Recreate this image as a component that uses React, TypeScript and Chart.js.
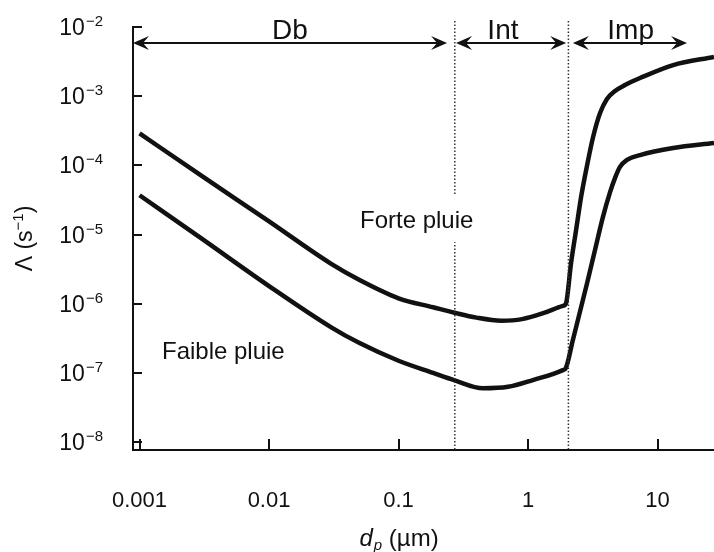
import React, { useEffect, useRef } from 'react';
import { Chart, registerables } from 'chart.js';

Chart.register(...registerables);

// ---- data ----
const forteDiameters = [0.001, 0.003, 0.01, 0.03, 0.05, 0.1, 0.185, 0.272, 0.4, 0.62, 0.9, 1.31, 1.86, 1.96, 2.15, 2.35, 2.57, 2.86, 3.18, 3.6, 4.07, 4.7, 5.61, 7.33, 13.2, 27.3];
const forteRates = [2.9e-4, 7.1e-5, 1.55e-5, 3.8e-6, 2.2e-6, 1.2e-6, 8.9e-7, 7.4e-7, 6.3e-7, 5.7e-7, 6.0e-7, 7.3e-7, 9.3e-7, 1.0e-6, 3.9e-6, 1.16e-5, 3.5e-5, 1.01e-4, 2.57e-4, 5.7e-4, 9.1e-4, 1.19e-3, 1.45e-3, 1.83e-3, 2.82e-3, 3.7e-3];

const faibleDiameters = [0.001, 0.003, 0.01, 0.03, 0.05, 0.1, 0.185, 0.272, 0.45, 0.7, 1.09, 1.86, 1.96, 2.22, 2.86, 3.29, 3.79, 4.3, 4.7, 5.13, 5.81, 7.33, 13.2, 27.3];
const faibleRates = [3.7e-5, 8.8e-6, 1.8e-6, 4.6e-7, 2.7e-7, 1.5e-7, 1.0e-7, 7.8e-8, 6.0e-8, 6.3e-8, 7.9e-8, 1.1e-7, 1.18e-7, 3.0e-7, 2.0e-6, 6.0e-6, 1.8e-5, 4.1e-5, 6.6e-5, 9.5e-5, 1.2e-4, 1.41e-4, 1.78e-4, 2.1e-4];

const xTicks = [0.001, 0.01, 0.1, 1, 10];
const xTickLabels = ['0.001', '0.01', '0.1', '1', '10'];
const yTicks = [1e-2, 1e-3, 1e-4, 1e-5, 1e-6, 1e-7, 1e-8];
const yTickExponents = ['−2', '−3', '−4', '−5', '−6', '−7', '−8'];

const xRange = [8.9e-4, 27.3];
const yRange = [7.7e-9, 1e-2];

// regime boundaries (dotted lines) and arrows
const regimeDividers = [0.272, 2.05];
const regimeNames = ['Db', 'Int', 'Imp'];
const regimeArrowFrom = [8.9e-4, 0.278, 2.22];
const regimeArrowTo = [0.237, 1.97, 16.9];
const regimeLabelX = [0.0145, 0.64, 6.2];
const regimeArrowLevel = 5.9e-3;

const curveLabels = ['Forte pluie', 'Faible pluie'];
const curveLabelX = [0.0504, 0.00149];
const curveLabelY = [1.24e-5, 1.59e-7];

const INK = '#111111';
const FONT = '"Liberation Sans", Arial, sans-serif';

function arrowHead(ctx: CanvasRenderingContext2D, tipX: number, y: number, dir: number) {
  ctx.beginPath();
  ctx.moveTo(tipX, y);
  ctx.lineTo(tipX - dir * 16, y - 7);
  ctx.lineTo(tipX - dir * 10, y);
  ctx.lineTo(tipX - dir * 16, y + 7);
  ctx.closePath();
  ctx.fill();
}

const decor = {
  id: 'decor',
  afterDraw(chart: any) {
    const { ctx, chartArea: a } = chart;
    const x = chart.scales.x;
    const y = chart.scales.y;
    ctx.save();
    ctx.strokeStyle = INK;
    ctx.fillStyle = INK;
    ctx.lineCap = 'butt';

    // inward ticks
    ctx.lineWidth = 2;
    ctx.beginPath();
    yTicks.forEach((v) => {
      const py = Math.round(y.getPixelForValue(v));
      ctx.moveTo(a.left, py);
      ctx.lineTo(a.left + 9, py);
    });
    xTicks.forEach((v) => {
      const px = Math.round(x.getPixelForValue(v));
      ctx.moveTo(px, a.bottom);
      ctx.lineTo(px, a.bottom - 11);
    });
    ctx.stroke();

    // y tick labels: 10 with raised exponent
    ctx.textBaseline = 'alphabetic';
    yTicks.forEach((v, i) => {
      const py = y.getPixelForValue(v);
      ctx.font = `15px ${FONT}`;
      const we = ctx.measureText(yTickExponents[i]).width;
      ctx.textAlign = 'right';
      ctx.fillText(yTickExponents[i], 103, py - 1);
      ctx.font = `23px ${FONT}`;
      ctx.fillText('10', 103 - we - 1, py + 8);
    });

    // dotted dividers
    ctx.save();
    ctx.lineWidth = 1.5;
    ctx.strokeStyle = '#333';
    ctx.setLineDash([1.5, 2]);
    regimeDividers.forEach((v) => {
      const px = x.getPixelForValue(v);
      ctx.beginPath();
      ctx.moveTo(px, a.top - 6);
      ctx.lineTo(px, a.bottom);
      ctx.stroke();
    });
    ctx.restore();

    // regime arrows
    const ay = Math.round(y.getPixelForValue(regimeArrowLevel));
    ctx.lineWidth = 2;
    regimeNames.forEach((name, i) => {
      const x0 = x.getPixelForValue(regimeArrowFrom[i]);
      const x1 = x.getPixelForValue(regimeArrowTo[i]);
      ctx.beginPath();
      ctx.moveTo(x0 + 4, ay);
      ctx.lineTo(x1 - 4, ay);
      ctx.stroke();
      arrowHead(ctx, x0, ay, -1);
      arrowHead(ctx, x1, ay, 1);
      ctx.font = `28px ${FONT}`;
      ctx.textAlign = 'center';
      ctx.textBaseline = 'alphabetic';
      ctx.fillText(name, x.getPixelForValue(regimeLabelX[i]), ay - 4);
    });

    // curve labels (with a white knock-out so the dotted line breaks around them)
    ctx.font = `24px ${FONT}`;
    ctx.textAlign = 'left';
    ctx.textBaseline = 'alphabetic';
    curveLabels.forEach((t, i) => {
      const tx = x.getPixelForValue(curveLabelX[i]);
      const ty = y.getPixelForValue(curveLabelY[i]);
      const w = ctx.measureText(t).width;
      ctx.fillStyle = '#fff';
      ctx.fillRect(tx - 2, ty - 34, w + 4, 48);
      ctx.fillStyle = INK;
      ctx.fillText(t, tx, ty);
    });

    // y axis title: Λ (s⁻¹)
    ctx.save();
    ctx.translate(26, (a.top + a.bottom) / 2);
    ctx.rotate(-Math.PI / 2);
    ctx.textBaseline = 'middle';
    const partA = 'Λ (s';
    const partB = '−1';
    const partC = ')';
    ctx.font = `23px ${FONT}`;
    const wA = ctx.measureText(partA).width;
    const wC = ctx.measureText(partC).width;
    ctx.font = `15px ${FONT}`;
    const wB = ctx.measureText(partB).width;
    let sx = -(wA + wB + wC) / 2;
    ctx.textAlign = 'left';
    ctx.font = `23px ${FONT}`;
    ctx.fillText(partA, sx, 0);
    sx += wA;
    ctx.font = `15px ${FONT}`;
    ctx.fillText(partB, sx, -7);
    sx += wB;
    ctx.font = `23px ${FONT}`;
    ctx.fillText(partC, sx, 0);
    ctx.restore();

    // x axis title: d_p (µm)
    ctx.save();
    ctx.textBaseline = 'alphabetic';
    ctx.textAlign = 'left';
    const baseY = 546;
    ctx.font = `italic 24px ${FONT}`;
    const wd = ctx.measureText('d').width;
    ctx.font = `italic 15px ${FONT}`;
    const wp = ctx.measureText('p').width;
    ctx.font = `24px ${FONT}`;
    const wu = ctx.measureText(' (µm)').width;
    let tx = x.getPixelForValue(0.1) - (wd + wp + wu) / 2;
    ctx.font = `italic 24px ${FONT}`;
    ctx.fillText('d', tx, baseY);
    tx += wd;
    ctx.font = `italic 15px ${FONT}`;
    ctx.fillText('p', tx + 1, baseY + 4);
    tx += wp + 1;
    ctx.font = `24px ${FONT}`;
    ctx.fillText(' (µm)', tx, baseY);
    ctx.restore();

    ctx.restore();
  },
};

export default function App() {
  const ref = useRef<HTMLCanvasElement | null>(null);
  useEffect(() => {
    if (!ref.current) return;
    Chart.defaults.font.family = FONT;
    Chart.defaults.color = INK;
    const chart = new Chart(ref.current, {
      type: 'line',
      data: {
        datasets: [
          {
            label: curveLabels[0],
            data: forteDiameters.map((d, i) => ({ x: d, y: forteRates[i] })),
            borderColor: INK,
            borderWidth: 4.5,
            pointRadius: 0,
            cubicInterpolationMode: 'monotone',
            fill: false,
          },
          {
            label: curveLabels[1],
            data: faibleDiameters.map((d, i) => ({ x: d, y: faibleRates[i] })),
            borderColor: INK,
            borderWidth: 4.5,
            pointRadius: 0,
            cubicInterpolationMode: 'monotone',
            fill: false,
          },
        ],
      },
      options: {
        responsive: false,
        animation: false,
        devicePixelRatio: 1,
        layout: { padding: { top: 27, right: 0, bottom: 0, left: 0 } },
        plugins: { legend: { display: false }, tooltip: { enabled: false } },
        scales: {
          x: {
            type: 'logarithmic',
            min: xRange[0],
            max: xRange[1],
            grid: { display: false, drawTicks: false },
            border: { display: true, color: INK, width: 2 },
            afterBuildTicks: (s: any) => {
              s.ticks = xTicks.map((v) => ({ value: v }));
            },
            afterFit: (s: any) => {
              s.height = 102;
            },
            ticks: {
              autoSkip: false,
              maxRotation: 0,
              padding: 38,
              font: { size: 22 },
              color: INK,
              callback: (v: any) => {
                const i = xTicks.findIndex((t) => Math.abs(t - Number(v)) / t < 1e-6);
                return i >= 0 ? xTickLabels[i] : '';
              },
            },
          },
          y: {
            type: 'logarithmic',
            min: yRange[0],
            max: yRange[1],
            grid: { display: false, drawTicks: false },
            border: { display: true, color: INK, width: 2 },
            afterBuildTicks: (s: any) => {
              s.ticks = yTicks.map((v) => ({ value: v }));
            },
            afterFit: (s: any) => {
              s.width = 133;
              s.paddingTop = 0;
              s.paddingBottom = 0;
            },
            ticks: { display: false },
          },
        },
      },
      plugins: [decor],
    } as any);
    return () => chart.destroy();
  }, []);
  return (
    <div style={{ position: 'fixed', left: 0, top: 0, width: 714, height: 552, background: '#fff' }}>
      <canvas ref={ref} width={714} height={552} />
    </div>
  );
}
